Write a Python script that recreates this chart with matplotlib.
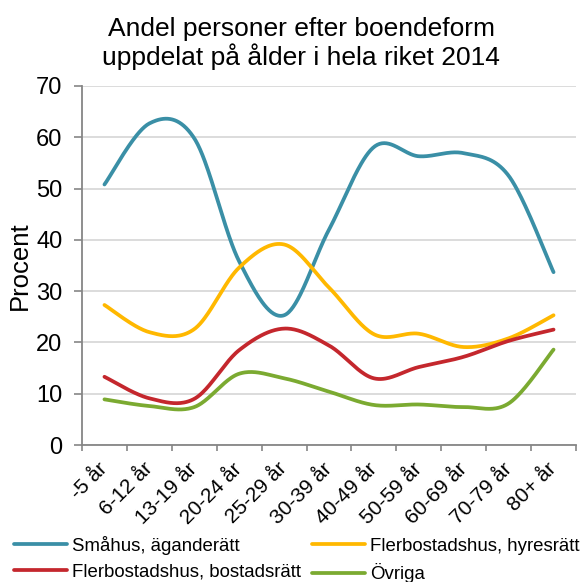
import numpy as np
import matplotlib
matplotlib.use("Agg")
import matplotlib.pyplot as plt
from matplotlib.transforms import ScaledTranslation

plt.rcParams['font.family'] = ['Liberation Sans', 'DejaVu Sans']

categories = ["-5 år", "6-12 år", "13-19 år", "20-24 år", "25-29 år", "30-39 år",
              "40-49 år", "50-59 år", "60-69 år", "70-79 år", "80+ år"]
smahus = [50.8, 62.7, 59.8, 35.8, 25.3, 42.0, 58.1, 56.3, 56.9, 52.5, 33.7]
hyresratt = [27.3, 22.0, 22.6, 34.6, 39.1, 30.7, 21.6, 21.7, 19.1, 20.8, 25.3]
bostadsratt = [13.3, 9.1, 9.0, 18.5, 22.7, 19.4, 13.0, 15.2, 17.2, 20.3, 22.5]
ovriga = [8.9, 7.6, 7.4, 13.9, 13.0, 10.4, 7.8, 7.9, 7.4, 8.1, 18.6]

series = [
    ("Småhus, äganderätt", smahus, "#3A8FA6"),
    ("Flerbostadshus, hyresrätt", hyresratt, "#FFB800"),
    ("Flerbostadshus, bostadsrätt", bostadsratt, "#C4272D"),
    ("Övriga", ovriga, "#7BAA31"),
]


def smooth(xs, ys, n=40):
    # bezier smoothing roughly like excel's "smoothed line"
    p = np.column_stack([xs, ys]).astype(float)
    out = []
    for i in range(len(p) - 1):
        p0 = p[max(i - 1, 0)]
        p1 = p[i]
        p2 = p[i + 1]
        p3 = p[min(i + 2, len(p) - 1)]
        c1 = p1 + (p2 - p0) / 6
        c2 = p2 - (p3 - p1) / 6
        t = np.linspace(0, 1, n)[:, None]
        seg = ((1 - t) ** 3) * p1 + 3 * ((1 - t) ** 2) * t * c1 + 3 * (1 - t) * t ** 2 * c2 + t ** 3 * p2
        out.append(seg if i == 0 else seg[1:])
    out = np.vstack(out)
    return out[:, 0], out[:, 1]


fig = plt.figure(figsize=(5.85, 5.82), dpi=100)
ax = fig.add_axes([82 / 585, 1 - 445 / 582, (576 - 82) / 585, (445 - 86) / 582])

x = np.arange(len(categories))
lines = {}
for name, vals, col in series:
    sx, sy = smooth(x, vals)
    lines[name], = ax.plot(sx, sy, color=col, lw=2.7, label=name, solid_capstyle="round")

ax.set_xlim(-0.5, len(categories) - 0.5)
ax.set_ylim(0, 70)
ax.set_yticks(range(0, 71, 10))
ax.set_xticks(x)
ax.set_xticklabels(categories, rotation=45, ha="right", va="center",
                   rotation_mode="anchor", fontsize=15)
for lbl in ax.get_xticklabels():
    lbl.set_transform(lbl.get_transform() + ScaledTranslation(4 / 72, 0, fig.dpi_scale_trans))
ax.set_xticks(np.arange(-0.5, len(categories), 1), minor=True)
ax.tick_params(axis="x", which="major", length=0, pad=15)
ax.tick_params(axis="x", which="minor", length=4.5, color="#868686", width=1.2)
ax.tick_params(axis="y", length=6, pad=8, color="#868686", width=1.2, labelsize=17)
ax.grid(axis="y", color="#D9D9D9", lw=1.3)
ax.set_axisbelow(True)
for s in ["top", "right"]:
    ax.spines[s].set_visible(False)
for s in ["left", "bottom"]:
    ax.spines[s].set_color("#868686")
    ax.spines[s].set_linewidth(1.3)

ax.set_ylabel("Procent", fontsize=18.5)
ax.yaxis.set_label_coords(-50 / 494, 0.5)

fig.text(0.515, 0.97, "Andel personer efter boendeform\nuppdelat på ålder i hela riket 2014",
         fontsize=19, ha="center", va="top", linespacing=1.1)

# legend goes row by row in the original
order = ["Småhus, äganderätt", "Flerbostadshus, bostadsrätt",
         "Flerbostadshus, hyresrätt", "Övriga"]
fig.legend([lines[k] for k in order], order, loc="lower left",
           bbox_to_anchor=(-0.005, -0.031), ncol=2, frameon=False,
           fontsize=13.4, handlelength=2.85, handletextpad=0.27, columnspacing=0.6,
           labelspacing=0.47)

fig.savefig("out.png", dpi=100)
